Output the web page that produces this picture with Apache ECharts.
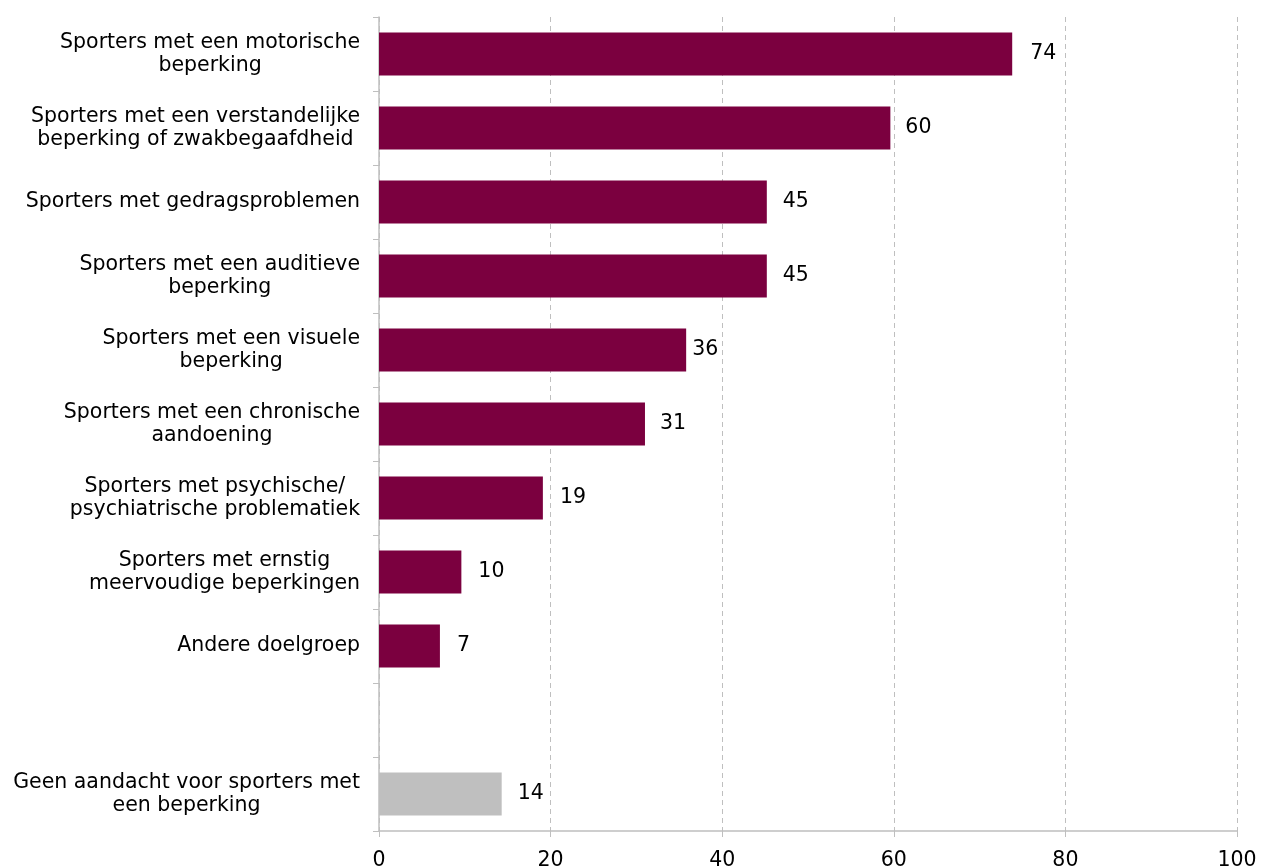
<!DOCTYPE html>
<html><head><meta charset="utf-8">
<script src="https://cdn.jsdelivr.net/npm/echarts@6/dist/echarts.min.js"></script>
<style>html,body{margin:0;padding:0;background:#fff}#c{width:1261px;height:866px}</style>
</head><body><div id="c"></div>
<script>
var categories = [
  'Sporters met een motorische\nbeperking',
  'Sporters met een verstandelijke\nbeperking of zwakbegaafdheid',
  'Sporters met gedragsproblemen',
  'Sporters met een auditieve\nbeperking',
  'Sporters met een visuele\nbeperking',
  'Sporters met een chronische\naandoening',
  'Sporters met psychische/\npsychiatrische problematiek',
  'Sporters met ernstig\nmeervoudige beperkingen',
  'Andere doelgroep',
  '',
  'Geen aandacht voor sporters met\neen beperking'
];
var values = [73.8, 59.6, 45.2, 45.2, 35.8, 31.0, 19.1, 9.6, 7.1, null, 14.3];
var xTicks = [0, 20, 40, 60, 80, 100];
var colors = ['#7B003F','#7B003F','#7B003F','#7B003F','#7B003F','#7B003F','#7B003F','#7B003F','#7B003F','#7B003F','#BFBFBF'];
var labelGaps = [18, 15, 16, 16, 6, 15, 17, 17, 17, 16, 16];

var font = 'DejaVu Sans';
var fs = 20.5;
var chart = echarts.init(document.getElementById('c'), null, {renderer:'canvas'});
chart.setOption({
  animation:false,
  grid:{left:379, right:24, top:17, bottom:35, containLabel:false, outerBoundsMode:'none'},
  xAxis:{type:'value', min:xTicks[0], max:xTicks[xTicks.length-1], interval:20,
    axisLine:{show:true, lineStyle:{color:'#BFBFBF', width:1.5}},
    axisTick:{show:true, length:6, lineStyle:{color:'#BFBFBF'}},
    axisLabel:{color:'#000', fontFamily:font, fontSize:fs, margin:19},
    splitLine:{show:true, lineStyle:{color:'#BFBFBF', type:[5,4], width:1}}
  },
  yAxis:{type:'category', data:categories, inverse:true,
    axisLine:{show:true, lineStyle:{color:'#BFBFBF', width:1.5}},
    axisTick:{show:true, length:6, alignWithLabel:false, lineStyle:{color:'#BFBFBF'}},
    axisLabel:{color:'#000', fontFamily:font, fontSize:fs, lineHeight:23, align:'right', margin:19, interval:0,
      formatter:function(v){ return v.split('\n').map(function(s){return '{a|'+s+'}';}).join('\n'); },
      rich:{a:{align:'center', fontFamily:font, fontSize:fs, lineHeight:23, color:'#000'}}
    }
  },
  series:[{type:'bar', data:values.map(function(v,i){return {value:v===null?'-':v, itemStyle:{color:colors[i]}, label:{distance:labelGaps[i]}};}),
    barCategoryGap:'42%',
    label:{show:true, position:'right', color:'#000', fontFamily:font, fontSize:fs,
      formatter:function(p){return Math.round(p.value);}}
  }]
});
</script></body></html>
